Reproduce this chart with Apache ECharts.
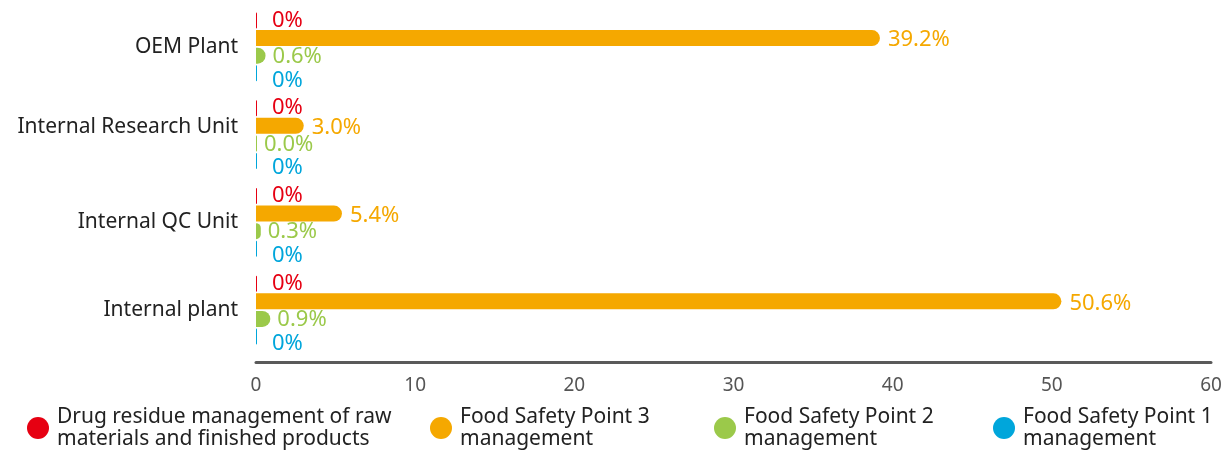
<!DOCTYPE html>
<html><head><meta charset="utf-8">
<script src="https://cdn.jsdelivr.net/npm/echarts@6/dist/echarts.min.js"></script>
<style>html,body{margin:0;padding:0;background:#fff}#c{width:1231px;height:450px}</style>
</head><body><div id="c"></div>
<script>
const categories = ['OEM Plant', 'Internal Research Unit', 'Internal QC Unit', 'Internal plant'];
const seriesNames = [
  'Drug residue management of raw\nmaterials and finished products',
  'Food Safety Point 3\nmanagement',
  'Food Safety Point 2\nmanagement',
  'Food Safety Point 1\nmanagement'
];
const drugResidue = [0, 0, 0, 0];
const point3 = [39.2, 3.0, 5.4, 50.6];
const point2 = [0.6, 0.0, 0.3, 0.9];
const point1 = [0, 0, 0, 0];
const labelDecimals = [0, 1, 1, 0];
const colors = ['#E60012', '#F5A800', '#9BC94A', '#00A6DB'];
const xTicks = [0, 10, 20, 30, 40, 50, 60];

const FONT = 'Noto Sans';
const values = [drugResidue, point3, point2, point1];
const labelDistance = [15, 8, 7, 15];
const labelOffsetY = [0, 2, 1, 7];
const legendLeft = [27, 430, 714, 993];
const chart = echarts.init(document.getElementById('c'), null, {renderer: 'canvas'});
chart.setOption({
  animation: false,
  textStyle: {fontFamily: FONT},
  grid: {left: 256, right: 20, top: 3, bottom: 96},
  xAxis: {
    type: 'value', min: xTicks[0], max: xTicks[xTicks.length - 1], interval: 10,
    offset: 8,
    axisLine: {show: true, lineStyle: {color: '#5a5a5a', width: 3}},
    axisTick: {show: false},
    splitLine: {show: false},
    axisLabel: {color: '#555', fontSize: 19, fontFamily: FONT, margin: 14}
  },
  yAxis: {
    type: 'category', data: categories, inverse: true,
    axisLine: {show: false}, axisTick: {show: false},
    axisLabel: {
      color: '#222', fontSize: 21, fontFamily: FONT, margin: 18,
      formatter: v => v === 'Internal Research Unit' ? '{up|' + v + '}' : v,
      rich: {up: {fontSize: 21, fontFamily: FONT, color: '#222', padding: [0, 0, 16, 0]}}
    }
  },
  legend: seriesNames.map((n, i) => ({
    top: 406, left: legendLeft[i], padding: 0,
    icon: 'circle', itemWidth: 22, itemHeight: 22,
    textStyle: {color: '#222', fontSize: 21, fontFamily: FONT, lineHeight: 22, padding: [0, 0, 0, 3]},
    data: [n]
  })),
  series: values.map((v, i) => ({
    type: 'bar', name: seriesNames[i], data: v,
    barWidth: 16, barGap: '10%', barMinHeight: 1,
    itemStyle: {color: colors[i], borderRadius: [0, 8, 8, 0]},
    label: {
      show: true, position: 'right', distance: labelDistance[i], offset: [0, labelOffsetY[i]],
      color: colors[i], fontSize: 22, fontFamily: FONT,
      formatter: p => p.value.toFixed(labelDecimals[i]) + '%'
    }
  }))
});
</script></body></html>
